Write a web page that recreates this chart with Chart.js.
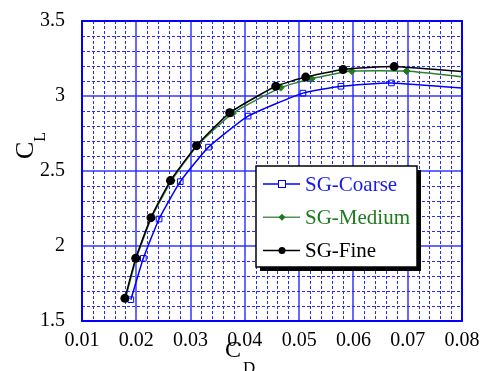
<!DOCTYPE html>
<html>
<head>
<meta charset="utf-8">
<script src="https://cdn.jsdelivr.net/npm/chart.js@4.4.0/dist/chart.umd.min.js"></script>
<style>
html, body { margin: 0; padding: 0; background: #fff; }
#probe { position: absolute; left: -999px; top: 0; font-family: 'Liberation Serif'; }
</style>
</head>
<body>
<canvas id="chart" width="489" height="371"></canvas>
<span id="probe">0.01 SG-Coarse CL</span>
<script>
// values (last point lies past 0.08 and gets clipped)
const coarseCD = [0.0190, 0.0213, 0.0242, 0.0281, 0.0333, 0.0406, 0.0507, 0.0577, 0.0670, 0.0900];
const coarseCL = [1.642, 1.918, 2.180, 2.429, 2.659, 2.866, 3.019, 3.065, 3.087, 3.025];
const mediumCD = [0.0180, 0.0200, 0.0228, 0.0265, 0.0312, 0.0378, 0.0466, 0.0523, 0.0597, 0.0698, 0.0900];
const mediumCL = [1.650, 1.918, 2.189, 2.436, 2.669, 2.886, 3.056, 3.115, 3.166, 3.166, 3.087];
const fineCD = [0.0179, 0.0199, 0.0227, 0.0263, 0.0311, 0.0372, 0.0457, 0.0512, 0.0581, 0.0675, 0.0900];
const fineCL = [1.651, 1.918, 2.189, 2.436, 2.669, 2.888, 3.065, 3.126, 3.177, 3.196, 3.133];

const xTickLabels = ['0.01', '0.02', '0.03', '0.04', '0.05', '0.06', '0.07', '0.08'];
const yTickLabels = ['1.5', '2', '2.5', '3', '3.5'];
const seriesNames = ['SG-Coarse', 'SG-Medium', 'SG-Fine'];

const SERIF = "'Liberation Serif'";
const BLUE = '#0000ff';
const GREEN = '#1e7a1e';

function toPoints(xs, ys) {
    return xs.map((x, i) => ({ x: x, y: ys[i] }));
}

// dotted minor grid + solid major grid + frame
const gridPlugin = {
    id: 'grid',
    beforeDatasetsDraw(chart) {
        const c = chart.ctx;
        const a = chart.chartArea;
        const xs = chart.scales.x, ys = chart.scales.y;
        c.save();
        c.strokeStyle = '#2a2aff';
        c.lineWidth = 1;
        c.setLineDash([3, 2]);
        for (let i = 0; i <= 35; i++) {
            if (i % 5 === 0) continue;
            const px = Math.round(xs.getPixelForValue(0.01 + i * 0.002)) + 0.5;
            c.beginPath(); c.moveTo(px, a.top); c.lineTo(px, a.bottom); c.stroke();
        }
        for (let i = 0; i <= 20; i++) {
            if (i % 5 === 0) continue;
            const py = Math.round(ys.getPixelForValue(1.5 + i * 0.1)) + 0.5;
            c.beginPath(); c.moveTo(a.left, py); c.lineTo(a.right, py); c.stroke();
        }
        c.setLineDash([]);
        c.strokeStyle = 'rgba(40,40,255,0.7)';
        c.lineWidth = 2;
        for (let i = 1; i < 7; i++) {
            const px = Math.round(xs.getPixelForValue(0.01 + i * 0.01));
            c.beginPath(); c.moveTo(px, a.top); c.lineTo(px, a.bottom); c.stroke();
        }
        for (let i = 1; i < 4; i++) {
            const py = Math.round(ys.getPixelForValue(1.5 + i * 0.5));
            c.beginPath(); c.moveTo(a.left, py); c.lineTo(a.right, py); c.stroke();
        }
        c.strokeStyle = BLUE;
        c.lineWidth = 2;
        c.strokeRect(a.left, a.top, a.right - a.left, a.bottom - a.top);
        c.restore();
    },
    afterDraw(chart) {
        const c = chart.ctx;
        c.save();
        c.fillStyle = '#000';
        c.textBaseline = 'alphabetic';
        // C_L
        c.translate(33, 159);
        c.rotate(-Math.PI / 2);
        c.font = '26px ' + SERIF;
        c.fillText('C', 0, 0);
        const w = c.measureText('C').width;
        c.font = '16px ' + SERIF;
        c.fillText('L', w, 12);
        c.restore();
        // C_D
        c.save();
        c.fillStyle = '#000';
        c.font = '24px ' + SERIF;
        c.fillText('C', 225, 357);
        const w2 = c.measureText('C').width;
        c.font = '17px ' + SERIF;
        c.fillText('D', 227 + w2, 373);
        c.restore();

        // legend box with drop shadow
        const bx = 256, by = 166, bw = 161, bh = 101;
        c.save();
        c.fillStyle = '#000';
        c.fillRect(bx + 4, by + 4, bw, bh);
        c.fillStyle = '#fff';
        c.fillRect(bx, by, bw, bh);
        c.strokeStyle = '#000';
        c.lineWidth = 1.5;
        c.strokeRect(bx, by, bw, bh);
        const colors = ['#1a1ae6', GREEN, '#000'];
        const lineColors = [BLUE, '#4f944f', '#000'];
        c.font = '21px ' + SERIF;
        c.textBaseline = 'middle';
        seriesNames.forEach((name, i) => {
            const ry = by + 18 + i * 33.3;
            c.strokeStyle = lineColors[i];
            c.lineWidth = 1.5;
            c.beginPath(); c.moveTo(bx + 7, ry); c.lineTo(bx + 44, ry); c.stroke();
            const mx = bx + 26;
            if (i === 0) {
                c.fillStyle = '#fff';
                c.fillRect(mx - 3.5, ry - 3.5, 7, 7);
                c.strokeStyle = BLUE; c.lineWidth = 1;
                c.strokeRect(mx - 3.5, ry - 3.5, 7, 7);
            } else if (i === 1) {
                c.fillStyle = GREEN;
                c.beginPath();
                c.moveTo(mx, ry - 3.5); c.lineTo(mx + 3.5, ry); c.lineTo(mx, ry + 3.5); c.lineTo(mx - 3.5, ry);
                c.closePath(); c.fill();
            } else {
                c.fillStyle = '#000';
                c.beginPath(); c.arc(mx, ry, 3.5, 0, Math.PI * 2); c.fill();
            }
            c.fillStyle = colors[i];
            c.fillText(name, bx + 49, ry + 1);
        });
        c.restore();
    }
};

function draw() {
    const ctx = document.getElementById('chart').getContext('2d');
    new Chart(ctx, {
        type: 'scatter',
        data: {
            datasets: [
                {
                    label: seriesNames[0],
                    data: toPoints(coarseCD, coarseCL),
                    showLine: true,
                    borderColor: BLUE,
                    borderWidth: 1.5,
                    pointStyle: 'rect',
                    pointRadius: 4,
                    pointBackgroundColor: 'rgba(255,255,255,0)',
                    pointBorderColor: BLUE,
                    pointBorderWidth: 1,
                    tension: 0.15,
                    order: 3
                },
                {
                    label: seriesNames[1],
                    data: toPoints(mediumCD, mediumCL),
                    showLine: true,
                    borderColor: '#2e7f2e',
                    borderWidth: 1.5,
                    pointStyle: 'rectRot',
                    pointRadius: 3.5,
                    pointBackgroundColor: GREEN,
                    pointBorderColor: GREEN,
                    pointBorderWidth: 1,
                    tension: 0.15,
                    order: 2
                },
                {
                    label: seriesNames[2],
                    data: toPoints(fineCD, fineCL),
                    showLine: true,
                    borderColor: '#000',
                    borderWidth: 1.5,
                    pointStyle: 'circle',
                    pointRadius: 4.5,
                    pointBackgroundColor: '#000',
                    pointBorderColor: '#000',
                    pointBorderWidth: 0,
                    tension: 0.15,
                    order: 1
                }
            ]
        },
        options: {
            responsive: false,
            animation: false,
            layout: { padding: { top: 16, right: 27, left: 0, bottom: 0 } },
            plugins: {
                legend: { display: false },
                tooltip: { enabled: false }
            },
            scales: {
                x: {
                    type: 'linear',
                    min: 0.01,
                    max: 0.08,
                    afterFit: s => { s.height = 50; },
                    grid: { display: false },
                    border: { display: false },
                    ticks: {
                        stepSize: 0.01,
                        padding: 0,
                        color: '#000',
                        font: { family: SERIF, size: 20 },
                        callback: (v, i) => xTickLabels[i]
                    }
                },
                y: {
                    type: 'linear',
                    min: 1.5,
                    max: 3.5,
                    afterFit: s => { s.width = 82; },
                    grid: { display: false },
                    border: { display: false },
                    ticks: {
                        stepSize: 0.5,
                        padding: 9,
                        color: '#000',
                        font: { family: SERIF, size: 20 },
                        callback: (v, i) => yTickLabels[i]
                    }
                }
            }
        },
        plugins: [gridPlugin]
    });
}

document.fonts.load("20px 'Liberation Serif'").then(draw, draw);
</script>
</body>
</html>
